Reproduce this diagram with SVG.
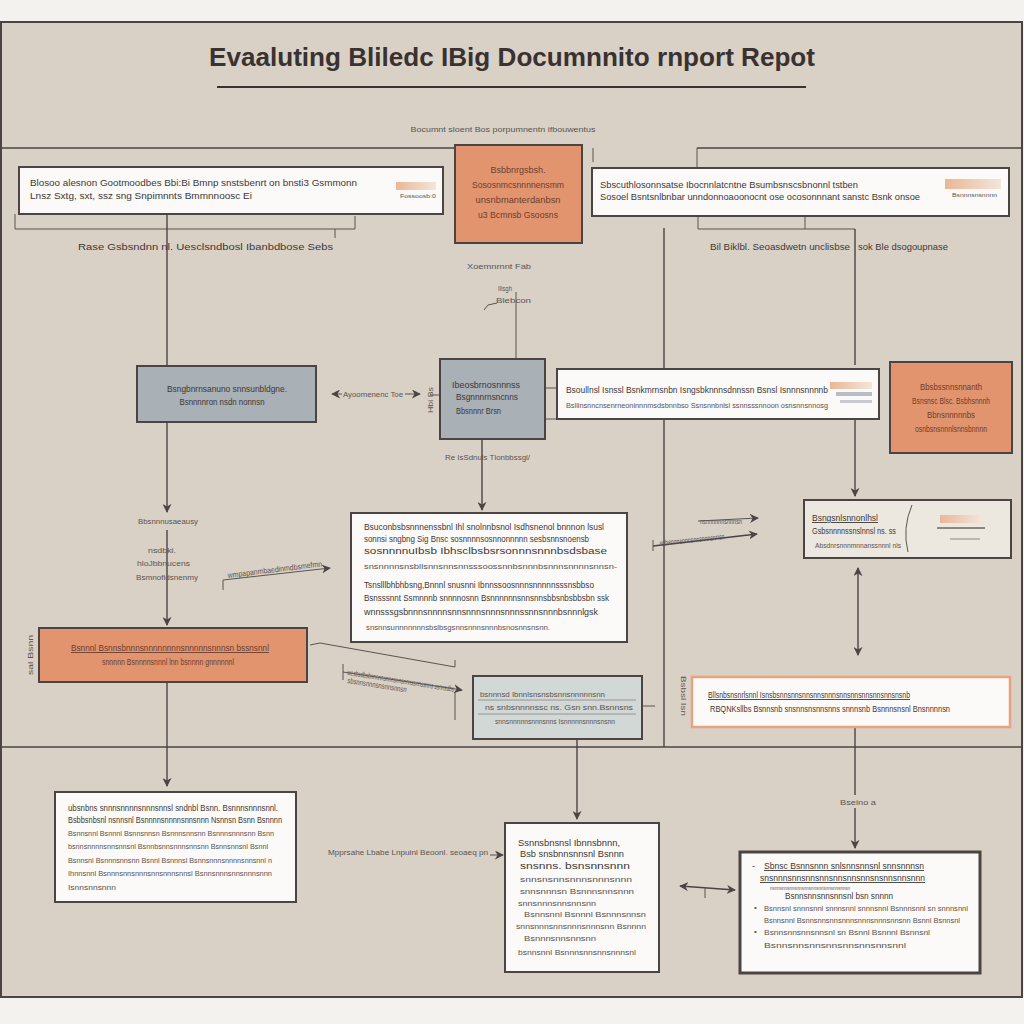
<svg xmlns="http://www.w3.org/2000/svg" width="1024" height="1024" viewBox="0 0 1024 1024">
<defs>
<style>
.bx{stroke:#4a4443;stroke-width:2}
.w{fill:#fbfaf8}
.or{fill:#e2946f}
.gb{fill:#a9b0b6}
.t{font-family:"Liberation Sans",Arial,sans-serif;font-size:9px;fill:#3d3836}
.s{font-size:8px;fill:#5a5452}
.b{font-weight:bold}
.m{text-anchor:middle}
.c{stroke:#4a4443;stroke-width:1.4;fill:none}
.thin{stroke:#5a5452;stroke-width:1;fill:none}
.ln{stroke:#8c8580;stroke-width:0.8}
</style>
<marker id="ah" viewBox="0 0 10 10" refX="9" refY="5" markerWidth="9" markerHeight="9" orient="auto-start-reverse" markerUnits="userSpaceOnUse">
<path d="M0,0 L10,5 L0,10 L3,5 z" fill="#4a4443"/>
</marker>
<linearGradient id="thumb" x1="0" y1="0" x2="1" y2="0">
<stop offset="0" stop-color="#e9b796"/>
<stop offset="1" stop-color="#f3e6da"/>
</linearGradient>
</defs>

<rect x="0" y="0" width="1024" height="1024" fill="#f4f2ef"/>
<rect x="1" y="22" width="1021" height="975" fill="#d9d1c6" stroke="#4a4443" stroke-width="2"/>

<g id="title">
<text class="t b m" x="512" y="66" style="font-size:26px;fill:#3a3230" textLength="606" lengthAdjust="spacingAndGlyphs">Evaaluting Bliledc IBig Documnnito rnport Repot</text>
<line x1="217" y1="87" x2="806" y2="87" stroke="#3a3230" stroke-width="2"/>
<text class="t s m" x="503" y="132" textLength="185" lengthAdjust="spacingAndGlyphs">Bocumnt sloent Bos porpumnentn ifbouwentus</text>
</g>

<g id="frame-lines">
<line x1="1" y1="148" x2="455" y2="148" class="c"/>
<line x1="697" y1="148" x2="1022" y2="148" class="c"/>
<line x1="593" y1="148" x2="593" y2="162" class="thin"/>
<line x1="697" y1="148" x2="697" y2="168" class="thin"/>
<line x1="1" y1="747" x2="1022" y2="747" class="c"/>
</g>

<g id="connectors">
<polyline points="15,214 15,229 355,229 355,216" class="thin"/>
<line x1="335" y1="229" x2="335" y2="238" class="thin"/>
<line x1="167" y1="214" x2="167" y2="366" class="c"/>
<polyline points="698,216 698,229 855,229" class="thin"/>
<line x1="805" y1="216" x2="805" y2="229" class="thin"/>
<line x1="664" y1="228" x2="664" y2="747" class="c"/>
<line x1="855" y1="229" x2="855" y2="365" class="c"/>
<line x1="855" y1="419" x2="855" y2="496" class="c" marker-end="url(#ah)"/>
<line x1="516" y1="292" x2="516" y2="358" class="thin"/>
<path d="M484,310 L488,305 L497,303" class="thin"/>
<line x1="332" y1="394" x2="342" y2="394" class="thin" marker-start="url(#ah)"/>
<line x1="405" y1="394" x2="420" y2="394" class="thin" marker-end="url(#ah)"/>
<line x1="430" y1="395" x2="440" y2="395" class="thin"/>
<line x1="545" y1="388" x2="557" y2="388" class="thin"/>
<line x1="545" y1="419" x2="557" y2="419" class="thin"/>
<line x1="482" y1="439" x2="482" y2="510" class="c" marker-end="url(#ah)"/>
<line x1="167" y1="422" x2="167" y2="512" class="c" marker-end="url(#ah)"/>
<line x1="167" y1="530" x2="167" y2="625" class="c" marker-end="url(#ah)"/>
<polyline points="223,590 223,580 330,568" class="thin" marker-end="url(#ah)"/>
<line x1="698" y1="521" x2="758" y2="518" class="thin" marker-end="url(#ah)"/>
<line x1="653" y1="546" x2="757" y2="534" class="c" marker-end="url(#ah)"/>
<line x1="653" y1="540" x2="653" y2="551" class="thin"/>
<line x1="858" y1="568" x2="858" y2="655" class="c" marker-start="url(#ah)" marker-end="url(#ah)"/>
<polyline points="310,645 320,643 455,667 455,660" class="thin"/>
<line x1="343" y1="672" x2="462" y2="690" class="thin" marker-end="url(#ah)"/>
<line x1="343" y1="664" x2="343" y2="680" class="thin"/>
<line x1="455" y1="692" x2="455" y2="720" class="thin"/>
<line x1="642" y1="706" x2="655" y2="706" class="thin"/>
<line x1="167" y1="682" x2="167" y2="786" class="c" marker-end="url(#ah)"/>
<line x1="577" y1="739" x2="577" y2="819" class="c" marker-end="url(#ah)"/>
<line x1="855" y1="727" x2="855" y2="795" class="c"/>
<line x1="855" y1="808" x2="855" y2="848" class="c" marker-end="url(#ah)"/>
<line x1="490" y1="855" x2="503" y2="855" class="thin" marker-end="url(#ah)"/>
<line x1="680" y1="886" x2="735" y2="890" class="c" marker-start="url(#ah)" marker-end="url(#ah)"/>
<line x1="705" y1="888" x2="705" y2="898" class="thin"/>
</g>

<g id="labels">
<text class="t" x="78" y="250" textLength="255" lengthAdjust="spacingAndGlyphs">Rase Gsbsndnn nl.  Uesclsndbosl Ibanbdbose Sebs</text>
<text class="t" x="710" y="250" textLength="140" lengthAdjust="spacingAndGlyphs">Bil Biklbl. Seoasdwetn unclisbse</text>
<text class="t" x="858" y="250" textLength="90" lengthAdjust="spacingAndGlyphs">sok Ble dsogoupnase</text>
<text class="t s" x="467" y="269" textLength="64" lengthAdjust="spacingAndGlyphs">Xoemnrnnt Fab</text>
<text class="t s" x="498" y="291" textLength="14" lengthAdjust="spacingAndGlyphs">Ilisgh</text>
<text class="t s" x="496" y="303" textLength="35" lengthAdjust="spacingAndGlyphs">Blebcon</text>
<text class="t s" x="343" y="397" textLength="60" lengthAdjust="spacingAndGlyphs">Ayoomenenc Toe</text>
<text class="t s" x="445" y="460" textLength="85" lengthAdjust="spacingAndGlyphs">Re IsSdnuls  Tlonbbssgl/</text>
<text class="t s" x="138" y="524" textLength="60" lengthAdjust="spacingAndGlyphs">Bbsnnnusaeausy</text>
<text class="t s" x="148" y="553" textLength="28" lengthAdjust="spacingAndGlyphs">nsdbki.</text>
<text class="t s" x="137" y="566" textLength="53" lengthAdjust="spacingAndGlyphs">hloJbbnucens</text>
<text class="t s" x="136" y="580" textLength="62" lengthAdjust="spacingAndGlyphs">Bsmnofidsnenmy</text>
<text class="t s" x="228" y="578" transform="rotate(-7 228 578)" textLength="95" lengthAdjust="spacingAndGlyphs">wmpapanmbaedinmdbsmefmn</text>
<text class="t s" x="700" y="524" textLength="42" lengthAdjust="spacingAndGlyphs">nsnnnnnnsnnnsn</text>
<text class="t s" x="660" y="546" transform="rotate(-6 660 546)" textLength="65" lengthAdjust="spacingAndGlyphs">sdbsnnnsnnnsnnsnnnsnnsn</text>
<text class="t s" x="347" y="675" transform="rotate(9 347 675)" textLength="108" lengthAdjust="spacingAndGlyphs">wesbsdbsbnnnnnsnnnsnnsnnnssnnssnns ssnnsdbs</text>
<text class="t s" x="347" y="683" transform="rotate(9 347 683)" textLength="60" lengthAdjust="spacingAndGlyphs">sbsnnsnnnsnsnnsnnsn</text>
<text class="t s" x="33" y="675" transform="rotate(-90 33 675)" textLength="40" lengthAdjust="spacingAndGlyphs">sal  Bsnn</text>
<text class="t s" x="433" y="413" transform="rotate(-90 433 413)" textLength="26" lengthAdjust="spacingAndGlyphs">Hbi Bs</text>
<text class="t s" x="681" y="676" transform="rotate(90 681 676)" textLength="40" lengthAdjust="spacingAndGlyphs">Bsbsl Isn</text>
<text class="t s" x="328" y="855" textLength="160" lengthAdjust="spacingAndGlyphs">Mpprsahe Lbabe  Lnpuinl Beoonl.  seoaeq pn</text>
<text class="t s" x="840" y="805" textLength="36" lengthAdjust="spacingAndGlyphs">Bseino a</text>
</g>

<g id="nodeA">
<rect x="19" y="167" width="424" height="47" class="bx w"/>
<text class="t" x="30" y="186" textLength="327" lengthAdjust="spacingAndGlyphs">Blosoo alesnon  Gootmoodbes  Bbi:Bi Bmnp snstsbenrt on bnsti3  Gsmmonn</text>
<text class="t" x="30" y="199" textLength="222" lengthAdjust="spacingAndGlyphs">Lnsz Sxtg, sxt, ssz sng Snpimnnts Bmmnnoosc Ei</text>
<rect x="396" y="182" width="40" height="8" fill="url(#thumb)"/>
<text class="t s" x="400" y="198" style="font-size:6px" textLength="36" lengthAdjust="spacingAndGlyphs">Fossoosb:0</text>
</g>

<g id="nodeB">
<rect x="455" y="145" width="127" height="98" class="bx or"/>
<text class="t m" x="518" y="173" style="fill:#6b3e2e" textLength="55" lengthAdjust="spacingAndGlyphs">Bsbbnrgsbsh.</text>
<text class="t m" x="518" y="188" style="fill:#6b3e2e" textLength="92" lengthAdjust="spacingAndGlyphs">Sososnmcsnnnnensmm</text>
<text class="t m" x="518" y="203" style="fill:#6b3e2e" textLength="85" lengthAdjust="spacingAndGlyphs">unsnbmanterdanbsn</text>
<text class="t m" x="518" y="218" style="fill:#6b3e2e" textLength="80" lengthAdjust="spacingAndGlyphs">u3 Bcmnsb Gsoosns</text>
</g>

<g id="nodeD">
<rect x="592" y="168" width="417" height="48" class="bx w"/>
<text class="t" x="600" y="188" textLength="258" lengthAdjust="spacingAndGlyphs">Sbscuthlosonnsatse Ibocnnlatcntne Bsumbsnscsbnonnl tstben</text>
<text class="t" x="600" y="200" textLength="320" lengthAdjust="spacingAndGlyphs">Sosoel Bsntsnlbnbar unndonnoaoonocnt ose ocosonnnant sanstc Bsnk onsoe</text>
<rect x="945" y="179" width="56" height="10" fill="url(#thumb)"/>
<text class="t s" x="952" y="197" style="font-size:6px" textLength="45" lengthAdjust="spacingAndGlyphs">Bsnnnsnsnnnn</text>
</g>

<g id="nodeE">
<rect x="137" y="366" width="179" height="56" class="bx gb"/>
<text class="t m" x="227" y="392" textLength="120" lengthAdjust="spacingAndGlyphs">Bsngbnrnsanuno snnsunbldgne.</text>
<text class="t m" x="222" y="405" textLength="85" lengthAdjust="spacingAndGlyphs">Bsnnnnron nsdn nonnsn</text>
</g>

<g id="nodeC">
<rect x="440" y="359" width="105" height="80" class="bx gb"/>
<text class="t" x="452" y="388" textLength="68" lengthAdjust="spacingAndGlyphs">Ibeosbrnosnnnss</text>
<text class="t" x="456" y="400" textLength="62" lengthAdjust="spacingAndGlyphs">Bsgnnnrnsncnns</text>
<text class="t" x="456" y="414" textLength="45" lengthAdjust="spacingAndGlyphs">Bbsnnnr Brsn</text>
</g>

<g id="nodeF">
<rect x="557" y="369" width="322" height="50" class="bx w"/>
<text class="t" x="566" y="393" textLength="262" lengthAdjust="spacingAndGlyphs">Bsoullnsl Isnssl Bsnkmrnsnbn Isngsbknnnsdnnssn Bsnsl Isnnnsnnnnb</text>
<text class="t s" x="566" y="408" textLength="262" lengthAdjust="spacingAndGlyphs">Bsllinsnncnsenrneoninnnmsdsbnnbso Ssnsnnbnlsl ssnnsssnnoon osnsnnsnnosg</text>
<rect x="830" y="382" width="42" height="7" fill="url(#thumb)"/>
<rect x="836" y="392" width="36" height="4" fill="#b8bcc6"/>
<rect x="840" y="400" width="32" height="3" fill="#c7c9cf"/>
</g>

<g id="nodeG">
<rect x="890" y="362" width="122" height="91" class="bx or"/>
<text class="t m" x="951" y="390" style="fill:#6b3e2e" textLength="62" lengthAdjust="spacingAndGlyphs">Bbsbssnnsnnanth</text>
<text class="t m" x="951" y="404" style="fill:#6b3e2e" textLength="78" lengthAdjust="spacingAndGlyphs">Bsnsnsc Blsc. Bsbhsnnnh</text>
<text class="t m" x="951" y="418" style="fill:#6b3e2e" textLength="48" lengthAdjust="spacingAndGlyphs">Bbnsnnnnnbs</text>
<text class="t m" x="951" y="432" style="fill:#6b3e2e" textLength="72" lengthAdjust="spacingAndGlyphs">osnbsnsnnnlsnnsbnnnn</text>
</g>

<g id="nodeH">
<rect x="351" y="513" width="276" height="129" class="bx w"/>
<text class="t" x="364" y="530" textLength="240" lengthAdjust="spacingAndGlyphs">Bsuconbsbsnnnenssbnl Ihl snolnnbsnol Isdhsnenol bnnnon lsusl</text>
<text class="t" x="364" y="542" textLength="225" lengthAdjust="spacingAndGlyphs">sonnsi sngbng Sig  Bnsc sosnnnnsosnnonnnnn sesbsnnsnoensb</text>
<text class="t" x="364" y="554" textLength="243" lengthAdjust="spacingAndGlyphs">sosnnnnuIbsb  Ibhsclbsbsrsonnnsnnnbsdsbase</text>
<text class="t s" x="364" y="569" textLength="253" lengthAdjust="spacingAndGlyphs">snsnnnnsnsbllsnnsnnsnnsssoossnnbsnnnbsnnnsnnnnsnnsn-</text>
<text class="t" x="364" y="588" textLength="230" lengthAdjust="spacingAndGlyphs">Tsnslllbhbhbsng,Bnnnl  snusnni Ibnnssoosnnnsnnnnnsssnsbbso</text>
<text class="t" x="364" y="601" textLength="245" lengthAdjust="spacingAndGlyphs">Bsnsssnnt Ssmnnnb snnnnosnn Bsnnnnnnsnnsnnsbbsnbsbbsbn ssk</text>
<text class="t" x="364" y="615" textLength="234" lengthAdjust="spacingAndGlyphs">wnnsssgsbnnnsnnnnsnnsnnnsnnnsnnnssnnsnnnbsnnnlgsk</text>
<text class="t s" x="366" y="630" textLength="184" lengthAdjust="spacingAndGlyphs">snsnnsunnnnnnnsbslbsgsnnsnnnsnnnbsnosnnsnsnn.</text>
</g>

<g id="nodeI">
<rect x="804" y="500" width="207" height="58" class="bx" fill="#ece8e0"/>
<text class="t" x="812" y="521" style="text-decoration:underline" textLength="66" lengthAdjust="spacingAndGlyphs">Bsngsnlsnnonlhsl</text>
<text class="t" x="812" y="534" textLength="84" lengthAdjust="spacingAndGlyphs">Gsbsnnnnssnslnnsl ns. ss</text>
<text class="t s" x="815" y="548" textLength="86" lengthAdjust="spacingAndGlyphs">Absdnrsnnnmnnanssnnnl  nls</text>
<path d="M912,505 Q902,528 908,552" class="thin" stroke="#b9b2aa"/>
<rect x="940" y="515" width="42" height="8" fill="url(#thumb)"/>
<rect x="937" y="527" width="48" height="2" fill="#8c8580"/>
<rect x="950" y="538" width="30" height="2" fill="#bdb7b0"/>
</g>

<g id="nodeJ">
<rect x="39" y="628" width="268" height="54" class="bx or"/>
<text class="t m" x="170" y="651" style="fill:#6b3e2e;text-decoration:underline" textLength="198" lengthAdjust="spacingAndGlyphs">Bsnnnl  Bsnnsbnnnsnnnnnnnnsnnnnnsnnnsn  bssnsnnl</text>
<text class="t m" x="168" y="665" style="fill:#6b3e2e" textLength="132" lengthAdjust="spacingAndGlyphs">snnnnn Bsnnnnsnnnl lnn bsnnnn gnnnnnnl</text>
</g>

<g id="nodeK">
<rect x="473" y="676" width="169" height="63" class="bx" fill="#d2d8d6"/>
<text class="t s" x="480" y="697" textLength="125" lengthAdjust="spacingAndGlyphs">bsnnnsd Ibnnlsnsnsbsnnsnnnnnsnn</text>
<line x1="478" y1="700" x2="636" y2="700" class="ln"/>
<text class="t s" x="485" y="710" textLength="148" lengthAdjust="spacingAndGlyphs">ns snbsnnnnssc ns.  Gsn  snn.Bsnnsns</text>
<line x1="478" y1="714" x2="636" y2="714" class="ln"/>
<text class="t s" x="495" y="724" textLength="120" lengthAdjust="spacingAndGlyphs">snnsnnnnnsnnnsnns Isnnnnnsnnnsnsnn</text>
</g>

<g id="nodeL">
<rect x="692" y="677" width="318" height="50" fill="#fcfaf8" stroke="#e8a27f" stroke-width="2.5"/>
<text class="t" x="708" y="698" style="text-decoration:underline" textLength="202" lengthAdjust="spacingAndGlyphs">Bllsnbsnsnrlsnnl Isnsbsnnsnnsnnsnnsnnnsnnsnnsnnsnnsnnsnsnb</text>
<text class="t" x="710" y="712" textLength="240" lengthAdjust="spacingAndGlyphs">RBQNKsllbs  Bsnnsnb  snsnnsnsnnsnns snnnsnb Bsnnnsnsnl Bnsnnnnsn</text>
</g>

<g id="nodeM">
<rect x="55" y="792" width="241" height="110" class="bx w"/>
<text class="t" x="68" y="811" textLength="210" lengthAdjust="spacingAndGlyphs">ubsnbns snnnsnnnnsnnnsnnsl sndnbl Bsnn. Bsnnnsnnnsnnl.</text>
<text class="t" x="68" y="823" textLength="214" lengthAdjust="spacingAndGlyphs">Bsbbsnbsnl nsnnsnl Bsnnnnsnnnnsnnsnnn  Nsnnsn Bsnn Bsnnnn</text>
<text class="t s" x="68" y="836" textLength="206" lengthAdjust="spacingAndGlyphs">Bsnnsnnl Bsnnnl Bsnnsnnsn Bsnnnsnnsnn Bsnnnsnnnsnn Bsnn</text>
<text class="t s" x="68" y="849" textLength="200" lengthAdjust="spacingAndGlyphs">bsnnsnnnnsnnsnnsnl Bsnnbsnnsnnnsnnsnn Bsnnsnnsnl Bsnnl</text>
<text class="t s" x="68" y="863" textLength="204" lengthAdjust="spacingAndGlyphs">Bsnnsnl Bsnnnsnnsnn Bsnnl Bsnnnsl Bsnnsnnnsnnnnsnnsnnl n</text>
<text class="t s" x="68" y="876" textLength="204" lengthAdjust="spacingAndGlyphs">Ihnnsnnl Bsnnnsnnsnnnsnnsnnnsnnsl Bsnnsnnnsnnsnnnsnnn</text>
<text class="t s" x="68" y="890" textLength="48" lengthAdjust="spacingAndGlyphs">Isnnsnnsnnn</text>
</g>

<g id="nodeN">
<rect x="505" y="823" width="154" height="149" class="bx w"/>
<text class="t" x="518" y="846" textLength="102" lengthAdjust="spacingAndGlyphs">Ssnnsbnsnsl Ibnnsbnnn,</text>
<text class="t" x="520" y="857" textLength="104" lengthAdjust="spacingAndGlyphs">Bsb snsbnnsnnsnl Bsnnn</text>
<text class="t" x="520" y="869" textLength="110" lengthAdjust="spacingAndGlyphs">snsnns. bsnsnnsnnn</text>
<text class="t s" x="520" y="882" textLength="112" lengthAdjust="spacingAndGlyphs">snnsnsnnsnnnsnnnsnnn</text>
<text class="t s" x="520" y="894" textLength="114" lengthAdjust="spacingAndGlyphs">snnsnnnsn Bsnnnsnnsnnn</text>
<text class="t s" x="518" y="906" textLength="78" lengthAdjust="spacingAndGlyphs">snnsnnnsnnsnnsnn</text>
<text class="t s" x="524" y="917" textLength="122" lengthAdjust="spacingAndGlyphs">Bsnnsnnl Bsnnnl Bsnnnsnnsn</text>
<text class="t s" x="516" y="929" textLength="130" lengthAdjust="spacingAndGlyphs">snnsnnnsnnsnnnsnnnsnn Bsnnnn</text>
<text class="t s" x="524" y="941" textLength="72" lengthAdjust="spacingAndGlyphs">Bsnnnsnnsnnsnn</text>
<text class="t s" x="518" y="955" textLength="118" lengthAdjust="spacingAndGlyphs">bsnnsnnl Bsnnnsnnsnnsnnnsnl</text>
</g>

<g id="nodeO">
<rect x="740" y="852" width="240" height="121" fill="#fbfaf8" stroke="#4a4443" stroke-width="3"/>
<text class="t" x="752" y="869">-</text>
<text class="t" x="764" y="869" style="text-decoration:underline" textLength="160" lengthAdjust="spacingAndGlyphs">Sbnsc Bsnnsnnn snlsnnsnnsnl snnsnnnsn</text>
<text class="t" x="760" y="881" style="text-decoration:underline" textLength="165" lengthAdjust="spacingAndGlyphs">snsnnnsnnsnnsnnsnnsnnsnnsnsnnsnnsnnn</text>
<text class="t s" x="770" y="890" style="font-size:5px" textLength="80" lengthAdjust="spacingAndGlyphs">nsnnsnnsnnsnnsnnsnnsnnsnnsnnsnnsn</text>
<text class="t" x="785" y="899" textLength="108" lengthAdjust="spacingAndGlyphs">Bsnnsnnsnnsnnsnl bsn snnnn</text>
<text class="t s" x="754" y="910">•</text>
<text class="t s" x="764" y="911" textLength="204" lengthAdjust="spacingAndGlyphs">Bsnnsnl snnnsnnl snnnsnnl snnnsnnl Bsnnnsnnl sn snnnsnnl</text>
<text class="t s" x="764" y="923" textLength="196" lengthAdjust="spacingAndGlyphs">Bsnnsnnl Bsnnsnnsnnsnnnsnnnsnnnsnnsnn Bsnnl Bsnnsnl</text>
<text class="t s" x="754" y="934">•</text>
<text class="t s" x="764" y="935" textLength="166" lengthAdjust="spacingAndGlyphs">Bsnnsnnsnnsnnsnl sn Bsnnl Bsnnnl Bsnnsnl</text>
<text class="t s" x="764" y="948" textLength="142" lengthAdjust="spacingAndGlyphs">Bsnnsnnsnnsnnsnnsnnsnnsnnl</text>
</g>
</svg>
